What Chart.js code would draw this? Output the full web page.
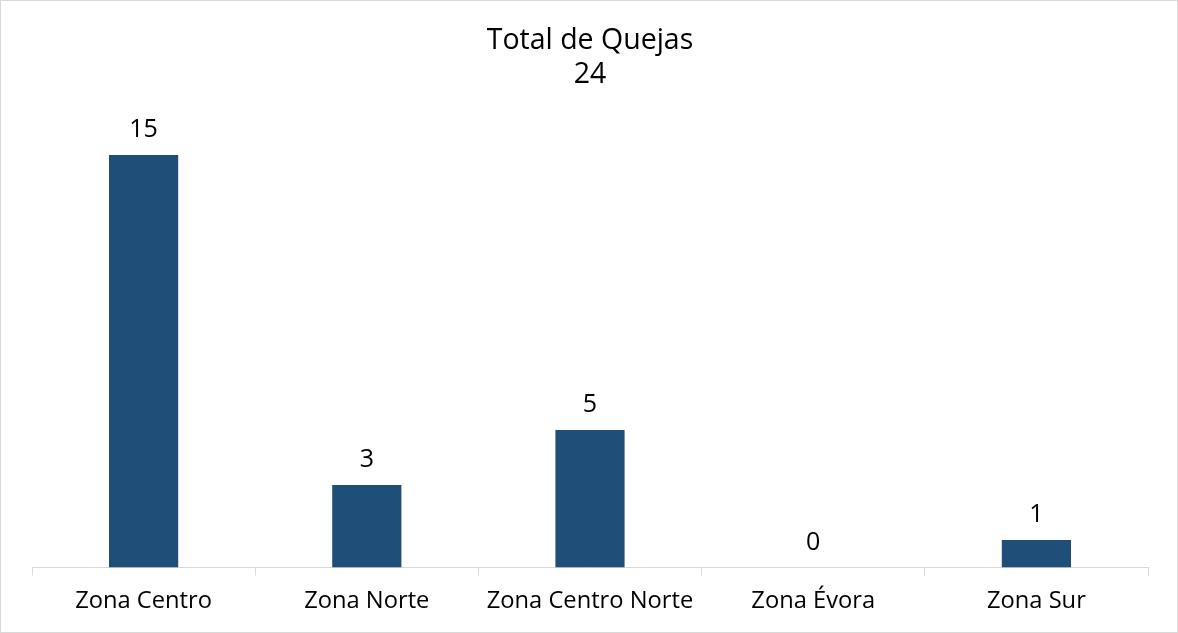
<!DOCTYPE html>
<html><head><meta charset="utf-8">
<script src="https://cdn.jsdelivr.net/npm/chart.js@4/dist/chart.umd.min.js"></script>
<style>
html,body{margin:0;padding:0;background:#fff;}
#wrap{width:1178px;height:633px;box-sizing:border-box;border:1px solid #d9d9d9;position:relative;}
canvas{display:block;}
</style></head><body>
<div id="wrap"><canvas id="c" width="1176" height="631"></canvas></div>
<script>
const categories = ['Zona Centro','Zona Norte','Zona Centro Norte','Zona Évora','Zona Sur'];
const values = [15,3,5,0,1];
const titleLines = ['Total de Quejas','24'];
const FONT = '"Open Sans", "Liberation Sans", Arial, sans-serif';

const labelPlugin = {
  id:'valLabels',
  afterDatasetsDraw(chart){
    const ctx = chart.ctx;
    const meta = chart.getDatasetMeta(0);
    ctx.save();
    ctx.font = '25px ' + FONT;
    ctx.fillStyle = '#000';
    ctx.textAlign = 'center';
    ctx.textBaseline = 'alphabetic';
    meta.data.forEach((bar,i)=>{
      ctx.fillText(String(values[i]), bar.x, bar.y - 18);
    });
    ctx.restore();
  }
};

new Chart(document.getElementById('c'),{
  type:'bar',
  data:{labels:categories,datasets:[{data:values,backgroundColor:'#1F4E79',categoryPercentage:1,barPercentage:0.31}]},
  options:{
    responsive:false,animation:false,
    layout:{padding:{left:31,right:29,top:0,bottom:6}},
    plugins:{
      legend:{display:false},tooltip:{enabled:false},
      title:{display:true,text:titleLines,color:'#000',font:{family:FONT,size:28.5,weight:'normal'},lineHeight:1.25,padding:{top:23,bottom:35}}
    },
    scales:{
      y:{display:false,min:0,max:16},
      x:{
        grid:{display:true,drawOnChartArea:false,tickLength:8,color:'#d9d9d9',offset:true},
        border:{color:'#d9d9d9',width:1},
        ticks:{color:'#000',font:{family:FONT,size:23.7},padding:11}
      }
    }
  },
  plugins:[labelPlugin]
});
</script>
</body></html>
